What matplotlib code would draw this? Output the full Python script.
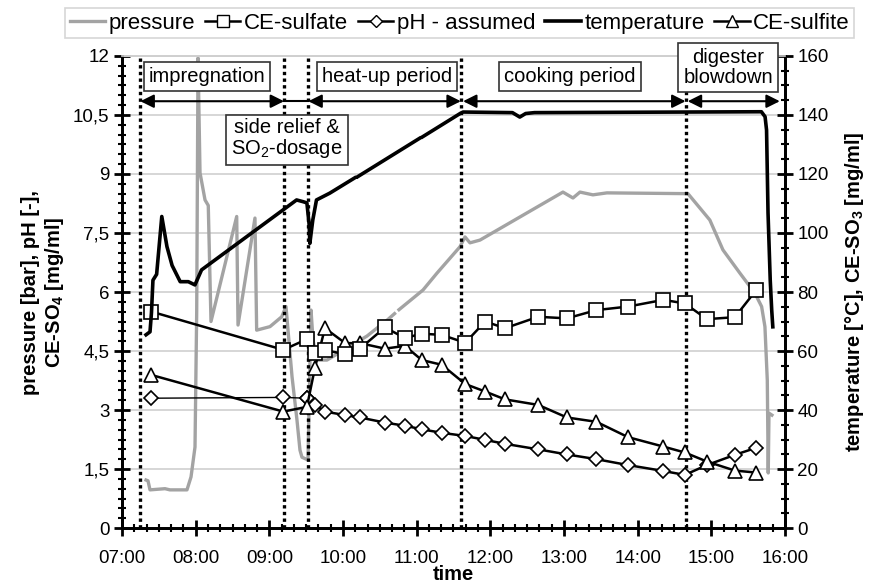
import numpy as np
import matplotlib
matplotlib.use("Agg")
import matplotlib.pyplot as plt
from matplotlib.lines import Line2D
from matplotlib.ticker import MultipleLocator, FuncFormatter

plt.rcParams['font.family'] = ['Liberation Sans', 'DejaVu Sans']
plt.rcParams['mathtext.fontset'] = 'custom'
plt.rcParams['mathtext.rm'] = 'Liberation Sans'
plt.rcParams['mathtext.bf'] = 'Liberation Sans:bold'

# --- data (time in decimal hours) ---
# sampling points for the liquor analyses
sample_t = [7.40, 9.19, 9.51, 9.62, 9.755, 10.03, 10.23, 10.57, 10.84, 11.07, 11.34, 11.66,
            11.93, 12.20, 12.65, 13.04, 13.44, 13.87, 14.35, 14.64, 14.94, 15.32, 15.61]
ce_sulfate = [5.50, 4.53, 4.80, 4.46, 4.52, 4.42, 4.56, 5.10, 4.83, 4.94, 4.91, 4.71,
              5.25, 5.08, 5.37, 5.33, 5.54, 5.63, 5.80, 5.71, 5.31, 5.36, 6.05]
ph_assumed = [3.30, 3.32, 3.30, 3.13, 2.96, 2.87, 2.81, 2.68, 2.60, 2.51, 2.42, 2.34,
              2.24, 2.14, 2.00, 1.87, 1.75, 1.60, 1.45, 1.35, 1.60, 1.86, 2.04]
ce_sulfite = [3.89, 2.96, 3.08, 4.08, 5.08, 4.70, 4.70, 4.56, 4.63, 4.27, 4.15, 3.66,
              3.47, 3.27, 3.13, 2.81, 2.70, 2.31, 2.07, 1.92, 1.69, 1.46, 1.41]

# pressure log [bar] (nan = gap in the logged signal)
pres_t = [7.326, 7.353, 7.38, 7.584, 7.65, 7.882, 7.937, 7.991, 8.014, 8.032, 8.059, 8.127,
          8.171, 8.208, 8.557, 8.575, 8.805, 8.828, 9.009, 9.168, 9.226, 9.308, 9.375, 9.416,
          9.443, 9.525, 9.566, 9.593, 9.647, 9.783, 10.326, 10.50, 10.51, 10.56, 10.70,
          10.71, 10.76, 11.086, 11.276, 11.588, 11.656, 11.724, 11.86, 12.986, 13.122, 13.217,
          13.393, 13.583, 14.683, 14.98, 15.158, 15.388, 15.592, 15.683, 15.728, 15.76,
          15.773, 15.783, 15.823]
pressure = [1.22, 1.20, 0.97, 1.00, 0.97, 0.97, 1.30, 2.06, 5.50, 11.95, 9.03, 8.34,
            8.20, 5.25, 7.92, 5.16, 7.88, 5.03, 5.12, 5.37, 5.63, 3.85, 2.75, 1.98,
            1.80, 1.73, 5.54, 4.78, 4.27, 4.27, 4.88, 5.14, np.nan, 5.22, 5.45,
            np.nan, 5.55, 6.05, 6.48, 7.15, 7.40, 7.25, 7.32, 8.54, 8.39, 8.54,
            8.47, 8.52, 8.50, 7.83, 7.07, 6.48, 5.97, 5.63, 5.12, 3.76,
            1.40, 2.92, 2.87]

# temperature log [°C]
temp_t = [7.326, 7.38, 7.40, 7.42, 7.47, 7.54, 7.61, 7.68, 7.79, 7.90, 7.99, 8.08,
          9.37, 9.46, 9.51, 9.54, 9.55, 9.59, 9.64, 9.82, 10.16, 10.17, 10.20, 11.04,
          11.05, 11.08, 11.59, 11.63, 12.30, 12.40, 12.48, 12.60, 15.68, 15.73, 15.75,
          15.77, 15.80, 15.82, 15.835]
temperature = [65.5, 66.5, 73.0, 84.0, 86.0, 105.6, 95.4, 89.0, 83.5, 83.5, 82.4, 87.5,
               111.2, 110.6, 110.2, 103.0, 96.5, 104.4, 111.2, 113.5, 118.7, np.nan, 119.1, 132.1,
               np.nan, 132.6, 140.5, 141.0, 140.8, 139.3, 140.5, 140.8, 141.1, 139.4, 134.9,
               106.8, 84.0, 73.9, 68.2]

# process phases
phase_bounds = [7.25, 9.20, 9.53, 11.60, 14.65]
blowdown_end = 15.93
phase_labels = ["impregnation", "side relief &\nSO$_{\\mathrm{2}}$-dosage", "heat-up period",
                "cooking period", "digester\nblowdown"]
label_pos = [(8.155, 11.49), (9.24, 9.89), (10.6, 11.49), (13.08, 11.49), (15.23, 11.70)]

hour_ticks = list(range(7, 17))

fig = plt.figure(figsize=(8.69, 5.85), dpi=100)
ax = fig.add_axes([0.1404, 0.0974, 0.7629, 0.8069])
ax2 = ax.twinx()

grey = '#a3a3a3'
ax.plot(pres_t, pressure, color=grey, lw=2.4, zorder=2)
ax.plot(sample_t[:3], ph_assumed[:3], color='black', lw=1.0, marker='D', ms=7.5,
        mfc='white', mec='black', mew=1.2, zorder=4)
ax.plot(sample_t[2:], ph_assumed[2:], color='black', lw=1.8, marker='D', ms=7.5,
        mfc='white', mec='black', mew=1.2, zorder=4)
ax.plot(sample_t, ce_sulfite, color='black', lw=1.8, marker='^', ms=10.5,
        mfc='white', mec='black', mew=1.2, zorder=5)
ax.plot(sample_t, ce_sulfate, color='black', lw=1.8, marker='s', ms=9.5,
        mfc='white', mec='black', mew=1.2, zorder=6)
ax2.plot(temp_t, temperature, color='black', lw=2.6, zorder=3)

# phase boundaries
for b in phase_bounds:
    ax.axvline(b, color='black', ls=(0, (1, 1)), lw=2.4, zorder=3)

# arrows and boxes go on the top axes (ax2) but use the left-axis data coords
tr = ax.transData
arrow_y = 10.85
arrow_kw = dict(arrowstyle='<|-|>', color='black', lw=1.5, mutation_scale=20,
                shrinkA=0, shrinkB=0)
segments = [(phase_bounds[0], phase_bounds[1]), (phase_bounds[2], phase_bounds[3]),
            (phase_bounds[3] + 0.03, phase_bounds[4]), (phase_bounds[4] + 0.03, blowdown_end)]
for x0, x1 in segments:
    ax2.annotate('', xy=(x1, arrow_y), xytext=(x0, arrow_y), xycoords=tr, textcoords=tr,
                 arrowprops=arrow_kw, zorder=7)
ax2.plot([phase_bounds[1], phase_bounds[2]], [arrow_y, arrow_y], color='black', lw=1.5,
         transform=tr, zorder=7)

for lbl, (x, y) in zip(phase_labels, label_pos):
    ax2.text(x, y, lbl, transform=tr, ha='center', va='center', fontsize=14.5, linespacing=1.05,
             bbox=dict(boxstyle='square,pad=0.25', fc='white', ec='#333333', lw=1.2),
             zorder=8, clip_on=False)

# axes
ax.set_xlim(7, 16)
ax.set_ylim(0, 12)
ax2.set_ylim(0, 160)
ax.set_xticks(hour_ticks)
ax.xaxis.set_major_formatter(FuncFormatter(lambda v, p: f"{int(round(v)):02d}:00"))
ax.xaxis.set_minor_locator(MultipleLocator(1 / 6))
ax.yaxis.set_major_locator(MultipleLocator(1.5))
ax.yaxis.set_minor_locator(MultipleLocator(0.25))
ax.yaxis.set_major_formatter(FuncFormatter(lambda v, p: f"{v:g}".replace('.', ',')))
ax2.yaxis.set_major_locator(MultipleLocator(20))
ax2.yaxis.set_minor_locator(MultipleLocator(5))

ax.grid(axis='y', color='#cfcfcf', lw=1.2, zorder=0)
ax.set_axisbelow(True)

for a in (ax, ax2):
    a.tick_params(which='major', direction='inout', length=11, width=2, labelsize=13.5)
    a.tick_params(which='minor', direction='inout', length=6, width=1.5)
    for s in ('left', 'bottom', 'right'):
        a.spines[s].set_linewidth(2)
    a.spines['top'].set_color('#cfcfcf')
    a.spines['top'].set_linewidth(1.2)
ax.tick_params(axis='x', which='major', pad=10)

ax.set_xlabel("time", fontsize=14.5, fontweight='bold', labelpad=-1)
ax.set_ylabel("pressure [bar], pH [-],\nCE-SO$_{\\mathbf{4}}$ [mg/ml]", fontsize=14.5,
              fontweight='bold', labelpad=5)
ax2.set_ylabel("temperature [°C], CE-SO$_{\\mathbf{3}}$ [mg/ml]", fontsize=14.5,
               fontweight='bold', labelpad=10)

handles = [
    Line2D([], [], color=grey, lw=2.4),
    Line2D([], [], color='black', lw=1.8, marker='s', ms=8, mfc='white', mec='black'),
    Line2D([], [], color='black', lw=1.8, marker='D', ms=6.5, mfc='white', mec='black'),
    Line2D([], [], color='black', lw=2.6),
    Line2D([], [], color='black', lw=1.8, marker='^', ms=8.5, mfc='white', mec='black'),
]
names = ["pressure", "CE-sulfate", "pH - assumed", "temperature", "CE-sulfite"]
leg = fig.legend(handles, names, loc='upper center', bbox_to_anchor=(0.529, 0.986), ncol=5,
                 fontsize=16, frameon=True, fancybox=False, edgecolor='#cccccc',
                 handlelength=1.6, handletextpad=0.15, columnspacing=0.45, borderpad=0.2,
                 borderaxespad=0)
leg.get_frame().set_linewidth(1.2)

fig.savefig("out.png", dpi=100)
